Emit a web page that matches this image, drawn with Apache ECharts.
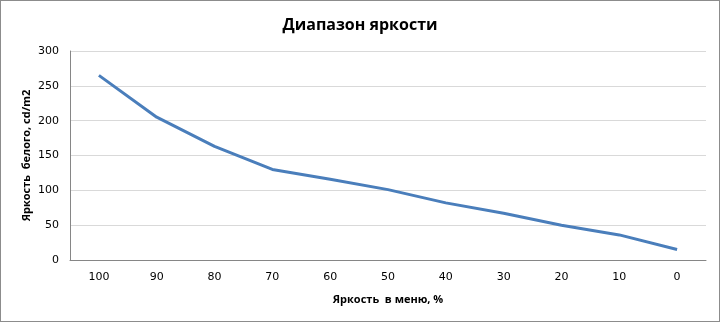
<!DOCTYPE html>
<html><head><meta charset="utf-8">
<script src="https://cdn.jsdelivr.net/npm/echarts@6/dist/echarts.min.js"></script>
<style>
html,body{margin:0;padding:0;background:#fff;}
#c{width:720px;height:322px;box-sizing:border-box;border:1px solid #8c8c8c;}
</style></head>
<body><div id="c"></div>
<script>
const categories = ['100','90','80','70','60','50','40','30','20','10','0'];
const brightness = [265, 205, 163, 130, 116, 101, 82, 67, 50, 36, 15];
const chart = echarts.init(document.getElementById('c'));
chart.setOption({
  animation:false,
  title:{text:'Диапазон яркости',left:'center',top:11,
    textStyle:{fontFamily:'Open Sans',fontWeight:'bold',fontSize:16,color:'#000'}},
  grid:{left:69,right:13,top:50,bottom:61},
  xAxis:{type:'category',data:categories,boundaryGap:true,
    name:'Яркость  в меню, %',nameLocation:'middle',nameGap:34,
    nameTextStyle:{fontFamily:'Open Sans',fontWeight:'bold',fontSize:11,color:'#000'},
    axisLine:{lineStyle:{color:'#868686',width:1}},axisTick:{show:false},
    axisLabel:{fontFamily:'DejaVu Sans',fontSize:11,color:'#000',margin:12}},
  yAxis:{type:'value',min:0,max:300,interval:50,
    name:'Яркость  белого, cd/m2',nameLocation:'middle',nameGap:38,nameMoveOverlap:false,
    nameTextStyle:{fontFamily:'Open Sans',fontWeight:'bold',fontSize:11,color:'#000'},
    axisLine:{show:true,lineStyle:{color:'#868686',width:1}},axisTick:{show:false},
    splitLine:{lineStyle:{color:'#d9d9d9',width:1}},
    axisLabel:{fontFamily:'DejaVu Sans',fontSize:11,color:'#000',margin:11}},
  series:[{type:'line',data:brightness,symbol:'none',
    lineStyle:{color:'#4a7ebb',width:3}}]
});
</script></body></html>
